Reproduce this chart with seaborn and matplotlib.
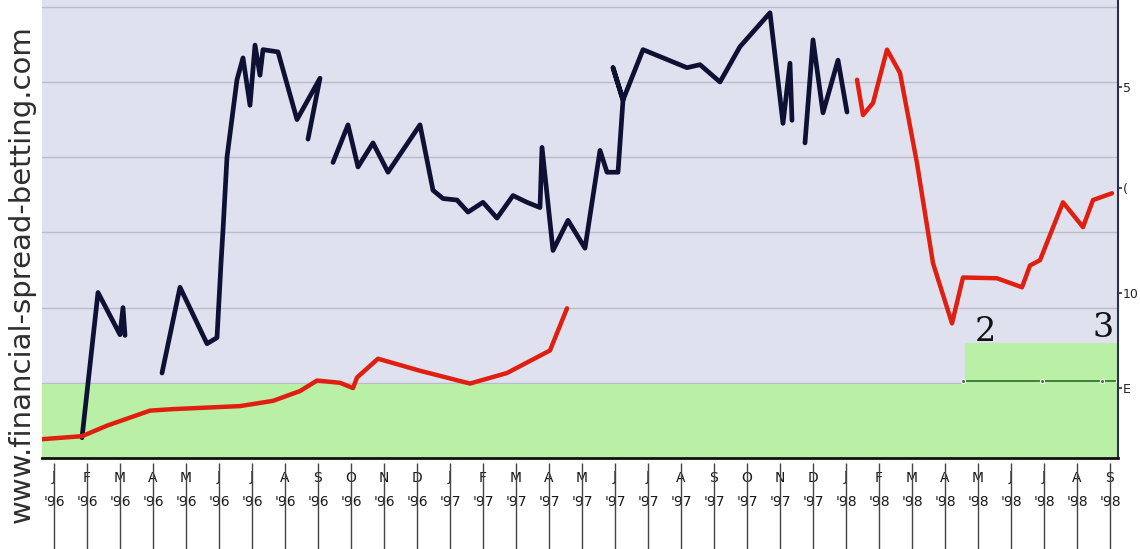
import numpy as np
import pandas as pd
import matplotlib
matplotlib.use("Agg")
import matplotlib.pyplot as plt
import seaborn as sns

# ---------------- data (x = trading day index, y = price) ----------------
black1_x = [40, 56, 78, 81, 83]
black1_y = [2.7, 22.0, 16.4, 20.0, 16.3]

black2_x = [120, 138, 165, 175, 179, 181, 185, 195, 201, 208, 213, 218, 221, 236, 255, 278, 266]
black2_y = [11.3, 22.7, 15.2, 16.0, 25.9, 30.3, 40.0, 50.3, 53.2, 46.9, 54.9, 50.9, 54.3, 54.0, 45.0, 50.5, 42.4]

black3_x = [291, 306, 316, 331, 346, 378, 391, 401, 415, 426, 441, 455, 471, 485, 498, 500, 511, 526, 543,
            558, 565, 576, 581, 571, 581, 601, 645, 658, 678, 698, 728, 741, 748, 750]
black3_y = [39.3, 44.3, 38.7, 41.9, 38.0, 44.3, 35.6, 34.5, 34.3, 32.7, 34.0, 31.9, 34.9, 34.0, 33.3, 41.3, 27.6, 31.6, 27.9,
            40.9, 38.0, 38.0, 47.6, 51.9, 47.6, 54.3, 51.9, 52.3, 50.0, 54.7, 59.2, 44.5, 52.5, 44.9]

black4_x = [763, 771, 781, 796, 805]
black4_y = [41.9, 55.6, 45.9, 52.9, 46.0]

red1_x = [0, 40, 65, 108, 131, 198, 231, 258, 275, 298, 311, 315, 336, 378, 428, 465, 508, 525]
red1_y = [2.5, 2.9, 4.3, 6.3, 6.5, 6.9, 7.6, 8.9, 10.3, 10.0, 9.3, 10.7, 13.2, 11.6, 9.9, 11.3, 14.3, 19.9]

red2_x = [815, 821, 831, 845, 858, 875, 891, 910, 921, 955, 980, 988, 998, 1021, 1041, 1051, 1070]
red2_y = [50.3, 45.6, 47.2, 54.3, 51.2, 39.2, 25.9, 17.9, 24.0, 23.9, 22.7, 25.6, 26.3, 34.0, 30.7, 34.3, 35.2]

green_x = [0, 923, 1076]
green_y = [9.9, 15.3, 15.3]

marker_line_x = [921, 1000, 1060, 1076]
marker_line_y = [10.3, 10.3, 10.3, 10.3]

step_labels = ["2", "3"]
step_label_x = [943, 1061]
step_label_y = [16.7, 17.3]

months = ["J", "F", "M", "A", "M", "J", "J", "A", "S", "O", "N", "D"]
tick_x = list(range(12, 1076, 33))
tick_labels = [f"{months[i % 12]}\n'{96 + i // 12}" for i in range(len(tick_x))]

right_ticks = [49.3, 35.9, 21.9, 9.3]
right_labels = ["5", "(", "10", "E"]

watermark = "www.financial-spread-betting.com"

# ---------------- figure ----------------
sns.set_theme(style="white")
plt.rcParams["font.family"] = ["DejaVu Sans"]

fig = plt.figure(figsize=(11.4, 5.49), dpi=100)
fig.patch.set_facecolor("white")
ax = fig.add_axes([42 / 1140, 91 / 549, (1118 - 42) / 1140, 1 - 91 / 549])
ax.set_facecolor("#dfe2ee")

ax.set_xlim(0, 1076)
ax.set_ylim(0, 60.9)

# grid
for gy in [10, 20, 30, 40, 50, 60]:
    ax.axhline(gy, color="#b9bdca", lw=1.0, zorder=0)

# green area
ax.fill_between(green_x, 0, green_y, step="post", color="#b9f0a6", lw=0, zorder=1)
sns.lineplot(x=marker_line_x, y=marker_line_y, ax=ax, color="#3f7f3a", lw=1.4,
             marker="o", markersize=3, sort=False, estimator=None, zorder=2)
for t, x, y in zip(step_labels, step_label_x, step_label_y):
    ax.text(x, y, t, fontsize=24, color="#111111", ha="center", va="center",
            family="DejaVu Serif", zorder=3)

# lines
for xs, ys in [(black1_x, black1_y), (black2_x, black2_y), (black3_x, black3_y), (black4_x, black4_y)]:
    sns.lineplot(x=xs, y=ys, ax=ax, color="#0e1133", lw=3.4, sort=False, estimator=None,
                 zorder=4, solid_joinstyle="round", solid_capstyle="round")
for xs, ys in [(red1_x, red1_y), (red2_x, red2_y)]:
    sns.lineplot(x=xs, y=ys, ax=ax, color="#e01f10", lw=3.2, sort=False, estimator=None,
                 zorder=4, solid_joinstyle="round", solid_capstyle="round")

# spines
for s in ["top", "left"]:
    ax.spines[s].set_visible(False)
ax.spines["bottom"].set_color("#111111")
ax.spines["bottom"].set_linewidth(2.0)
ax.spines["right"].set_color("#2a3050")
ax.spines["right"].set_linewidth(1.5)

# x ticks
ax.set_xticks(tick_x)
ax.set_xticklabels(tick_labels, fontsize=10, color="#1a1a1a", linespacing=2.0)
ax.tick_params(axis="x", length=0, pad=9)
ax.vlines(tick_x, -0.2, -0.01, transform=ax.get_xaxis_transform(), colors="#444444",
          lw=1.0, clip_on=False)

# right ticks
ax.yaxis.tick_right()
ax.set_yticks(right_ticks)
ax.set_yticklabels(right_labels, fontsize=9, color="#222222")
ax.tick_params(axis="y", length=3, width=1.2, color="#2a3050", pad=0.5)

# watermark
fig.text(22 / 1140, 0.5, watermark, rotation=90, ha="center", va="center",
         fontsize=21, color="#2e2e2e")

ax.set_xlabel("")
ax.set_ylabel("")
fig.savefig("out.png", dpi=100)
